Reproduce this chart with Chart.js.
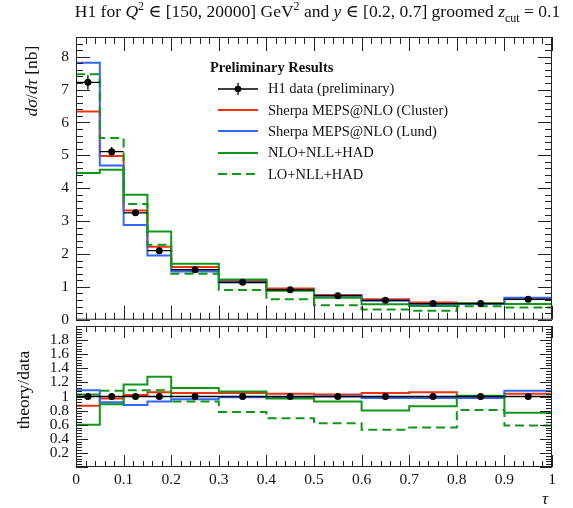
<!DOCTYPE html>
<html lang="en">
<head>
<meta charset="UTF-8" />
<title>H1 groomed tau</title>
<script src="https://cdn.jsdelivr.net/npm/chart.js"></script>
<style>
  body {
    margin: 0;
    background: #fff;
    font-family: 'Liberation Serif', 'DejaVu Serif', serif;
    color: #111;
  }
  #wrap { position: relative; width: 573px; height: 508px; overflow: hidden; }
  canvas { position: absolute; left: 0; }
  #mainChart { top: 0; }
  #ratioChart { top: 322px; }
  .title {
    position: absolute; top: 1px; left: 62px; width: 511px;
    text-align: center; font-size: 17.5px; white-space: nowrap;
  }
  sup, sub { font-size: 12px; line-height: 0; }
  .rot {
    position: absolute; white-space: nowrap; font-size: 17.5px;
    transform: translate(-50%, -50%) rotate(-90deg);
  }
  .xlab { position: absolute; left: 542px; top: 489px; font-size: 17px; font-style: italic; }
  .legend { position: absolute; left: 210px; top: 57px; font-size: 14.5px; }
  .legend .head { font-weight: bold; height: 21px; line-height: 20px; }
  .legend .row { height: 21.4px; display: flex; align-items: center; }
  .legend svg { margin-left: 8px; margin-right: 10px; }
</style>
</head>
<body>
<div id="wrap">
  <canvas id="mainChart" width="573" height="336"></canvas>
  <canvas id="ratioChart" width="573" height="186"></canvas>

  <div class="title">H1 for <i>Q</i><sup>2</sup> ∈ [150, 20000] GeV<sup>2</sup> and <i>y</i> ∈ [0.2, 0.7] groomed <i>z</i><sub>cut</sub> = 0.1</div>
  <div class="rot" style="left:31px; top:81px;"><i>dσ</i>/<i>dτ</i> [nb]</div>
  <div class="rot" style="left:23px; top:390px;">theory/data</div>
  <div class="xlab">τ</div>

  <div class="legend">
    <div class="head">Preliminary Results</div>
    <div class="row"><svg width="40" height="14"><line x1="0" y1="7" x2="40" y2="7" stroke="#000" stroke-width="1.3"/><line x1="20" y1="1" x2="20" y2="13" stroke="#000" stroke-width="1.3"/><circle cx="20" cy="7" r="3.3" fill="#000"/></svg>H1 data (preliminary)</div>
    <div class="row"><svg width="40" height="14"><line x1="0" y1="7" x2="40" y2="7" stroke="#EE3311" stroke-width="2"/></svg>Sherpa MEPS@NLO (Cluster)</div>
    <div class="row"><svg width="40" height="14"><line x1="0" y1="7" x2="40" y2="7" stroke="#3366FF" stroke-width="2"/></svg>Sherpa MEPS@NLO (Lund)</div>
    <div class="row"><svg width="40" height="14"><line x1="0" y1="7" x2="40" y2="7" stroke="#109618" stroke-width="2"/></svg>NLO+NLL+HAD</div>
    <div class="row"><svg width="40" height="14"><line x1="0" y1="7" x2="40" y2="7" stroke="#109618" stroke-width="2" stroke-dasharray="9,5"/></svg>LO+NLL+HAD</div>
  </div>
</div>

<script>
  // bin edges in tau
  const edges = [0, 0.05, 0.1, 0.15, 0.2, 0.3, 0.4, 0.5, 0.6, 0.7, 0.8, 0.9, 1.0];

  // H1 data (preliminary)
  const h1Data = [7.22, 5.11, 3.25, 2.10, 1.52, 1.14, 0.91, 0.73, 0.59, 0.49, 0.49, 0.62];
  const h1Err  = [0.22, 0.14, 0.06, 0.05, 0.04, 0.03, 0.03, 0.02, 0.02, 0.02, 0.02, 0.03];
  const h1RatioErr = [0.03, 0.02, 0.02, 0.02, 0.02, 0.02, 0.02, 0.02, 0.02, 0.02, 0.02, 0.03];

  // predictions, dsigma/dtau [nb]
  const sherpaCluster = [6.33, 4.98, 3.32, 2.22, 1.60, 1.20, 0.95, 0.75, 0.62, 0.52, 0.49, 0.65];
  const sherpaLund    = [7.82, 4.69, 2.88, 1.95, 1.47, 1.13, 0.90, 0.73, 0.58, 0.48, 0.48, 0.67];
  const nloNllHad     = [4.46, 4.56, 3.80, 2.68, 1.70, 1.22, 0.88, 0.67, 0.47, 0.42, 0.50, 0.48];
  const loNllHad      = [7.47, 5.53, 3.52, 2.28, 1.40, 0.90, 0.62, 0.44, 0.31, 0.27, 0.41, 0.37];

  // theory/data
  const ratioOne     = [1, 1, 1, 1, 1, 1, 1, 1, 1, 1, 1, 1];
  const ratioCluster = [0.87, 0.97, 1.02, 1.06, 1.05, 1.05, 1.04, 1.03, 1.05, 1.06, 1.00, 1.04];
  const ratioLund    = [1.09, 0.92, 0.88, 0.93, 0.96, 0.99, 0.99, 1.00, 0.98, 0.98, 0.98, 1.08];
  const ratioNlo     = [0.60, 0.89, 1.17, 1.28, 1.12, 1.07, 0.97, 0.93, 0.80, 0.86, 1.01, 0.77];
  const ratioLo      = [1.03, 1.08, 1.09, 1.09, 0.93, 0.78, 0.69, 0.62, 0.53, 0.56, 0.81, 0.59];

  const RED = '#EE3311', BLUE = '#3366FF', GREEN = '#109618';
  const FONT = { family: "'Liberation Serif', 'DejaVu Serif', serif", size: 15.5 };

  // histogram outline: one point per left edge, plus the last right edge
  function steps(vals) {
    return edges.map((e, i) => ({ x: e, y: vals[Math.min(i, vals.length - 1)] }));
  }
  function centres(vals) {
    return vals.map((v, i) => ({ x: (edges[i] + edges[i + 1]) / 2, y: v }));
  }

  function histSet(vals, color, dash) {
    return {
      type: 'line', data: steps(vals), stepped: 'before',
      borderColor: color, borderWidth: 2, borderDash: dash || [],
      pointRadius: 0, fill: false
    };
  }

  // data error bars (bin width horizontally, stat error vertically)
  const errBars = {
    id: 'errBars',
    afterDatasetsDraw(chart, args, opts) {
      const { ctx, scales: { x, y } } = chart;
      ctx.save();
      ctx.strokeStyle = '#000';
      ctx.lineWidth = 1.3;
      opts.vals.forEach((v, i) => {
        const yy = y.getPixelForValue(v);
        const xc = x.getPixelForValue((edges[i] + edges[i + 1]) / 2);
        ctx.beginPath();
        ctx.moveTo(x.getPixelForValue(edges[i]), yy);
        ctx.lineTo(x.getPixelForValue(edges[i + 1]), yy);
        ctx.moveTo(xc, y.getPixelForValue(v - opts.errs[i]));
        ctx.lineTo(xc, y.getPixelForValue(v + opts.errs[i]));
        ctx.stroke();
      });
      ctx.restore();
    }
  };

  // frame with inward ticks on all four sides
  const frameTicks = {
    id: 'frameTicks',
    afterDraw(chart, args, o) {
      const { ctx, chartArea: a, scales: { x, y } } = chart;
      ctx.save();
      ctx.strokeStyle = '#222';
      ctx.lineWidth = 1;
      ctx.strokeRect(a.left + 0.5, a.top + 0.5, a.right - a.left - 1, a.bottom - a.top - 1);
      ctx.beginPath();
      const nx = Math.round((x.max - x.min) / o.xMinor);
      for (let k = 0; k <= nx; k++) {
        const v = x.min + k * o.xMinor;
        const len = (k % o.xEvery === 0) ? o.major : o.minor;
        const px = Math.round(x.getPixelForValue(v)) + 0.5;
        ctx.moveTo(px, a.bottom); ctx.lineTo(px, a.bottom - len);
        ctx.moveTo(px, a.top); ctx.lineTo(px, a.top + len);
      }
      const ny = Math.round((y.max - y.min) / o.yMinor);
      for (let k = 0; k <= ny; k++) {
        const v = y.min + k * o.yMinor;
        const len = (k % o.yEvery === 0) ? o.major : o.minor;
        const py = Math.round(y.getPixelForValue(v)) + 0.5;
        ctx.moveTo(a.left, py); ctx.lineTo(a.left + len, py);
        ctx.moveTo(a.right, py); ctx.lineTo(a.right - len, py);
      }
      ctx.stroke();
      ctx.restore();
    }
  };

  function pointSet(vals) {
    return {
      type: 'scatter', data: centres(vals), showLine: false,
      pointRadius: 3.5, pointBackgroundColor: '#000', pointBorderWidth: 0
    };
  }

  new Chart(document.getElementById('mainChart'), {
    type: 'line',
    data: {
      datasets: [
        pointSet(h1Data),
        histSet(nloNllHad, GREEN),
        histSet(loNllHad, GREEN, [9, 5]),
        histSet(sherpaLund, BLUE),
        histSet(sherpaCluster, RED)
      ]
    },
    options: {
      responsive: false,
      animation: false,
      layout: { padding: { top: 37, right: 21, bottom: 13, left: 0 } },
      plugins: {
        legend: { display: false },
        tooltip: { enabled: false },
        errBars: { vals: h1Data, errs: h1Err },
        frameTicks: { xMinor: 0.02, xEvery: 5, yMinor: 0.2, yEvery: 5, major: 14, minor: 7 }
      },
      scales: {
        x: { type: 'linear', min: 0, max: 1, display: false },
        y: {
          min: 0, max: 8.6,
          afterFit(s) { s.width = 76; },
          grid: { display: false, drawTicks: false },
          border: { display: false },
          ticks: { stepSize: 1, includeBounds: false, padding: 7, color: '#111', font: FONT }
        }
      }
    },
    plugins: [errBars, frameTicks]
  });

  new Chart(document.getElementById('ratioChart'), {
    type: 'line',
    data: {
      datasets: [
        pointSet(ratioOne),
        histSet(ratioNlo, GREEN),
        histSet(ratioLo, GREEN, [9, 5]),
        histSet(ratioLund, BLUE),
        histSet(ratioCluster, RED)
      ]
    },
    options: {
      responsive: false,
      animation: false,
      layout: { padding: { top: 1, right: 21, bottom: 0, left: 0 } },
      plugins: {
        legend: { display: false },
        tooltip: { enabled: false },
        errBars: { vals: ratioOne, errs: h1RatioErr },
        frameTicks: { xMinor: 0.02, xEvery: 5, yMinor: 0.04, yEvery: 5, major: 12, minor: 6 }
      },
      scales: {
        x: {
          type: 'linear', min: 0, max: 1,
          afterFit(s) { s.height = 41; s.paddingLeft = 0; s.paddingRight = 0; },
          grid: { display: false, drawTicks: false },
          border: { display: false },
          ticks: { stepSize: 0.1, padding: 4, color: '#111', font: FONT, maxRotation: 0,
                   callback: v => String(+v.toFixed(1)) }
        },
        y: {
          min: 0, max: 2,
          afterBuildTicks(s) { s.ticks = s.ticks.filter(t => t.value > 0.01 && t.value < 1.99); },
          afterFit(s) { s.width = 76; s.paddingTop = 0; s.paddingBottom = 0; },
          grid: { display: false, drawTicks: false },
          border: { display: false },
          ticks: { stepSize: 0.2, autoSkip: false, padding: 7, color: '#111', font: FONT,
                   callback: v => String(+v.toFixed(1)) }
        }
      }
    },
    plugins: [errBars, frameTicks]
  });
</script>
</body>
</html>
